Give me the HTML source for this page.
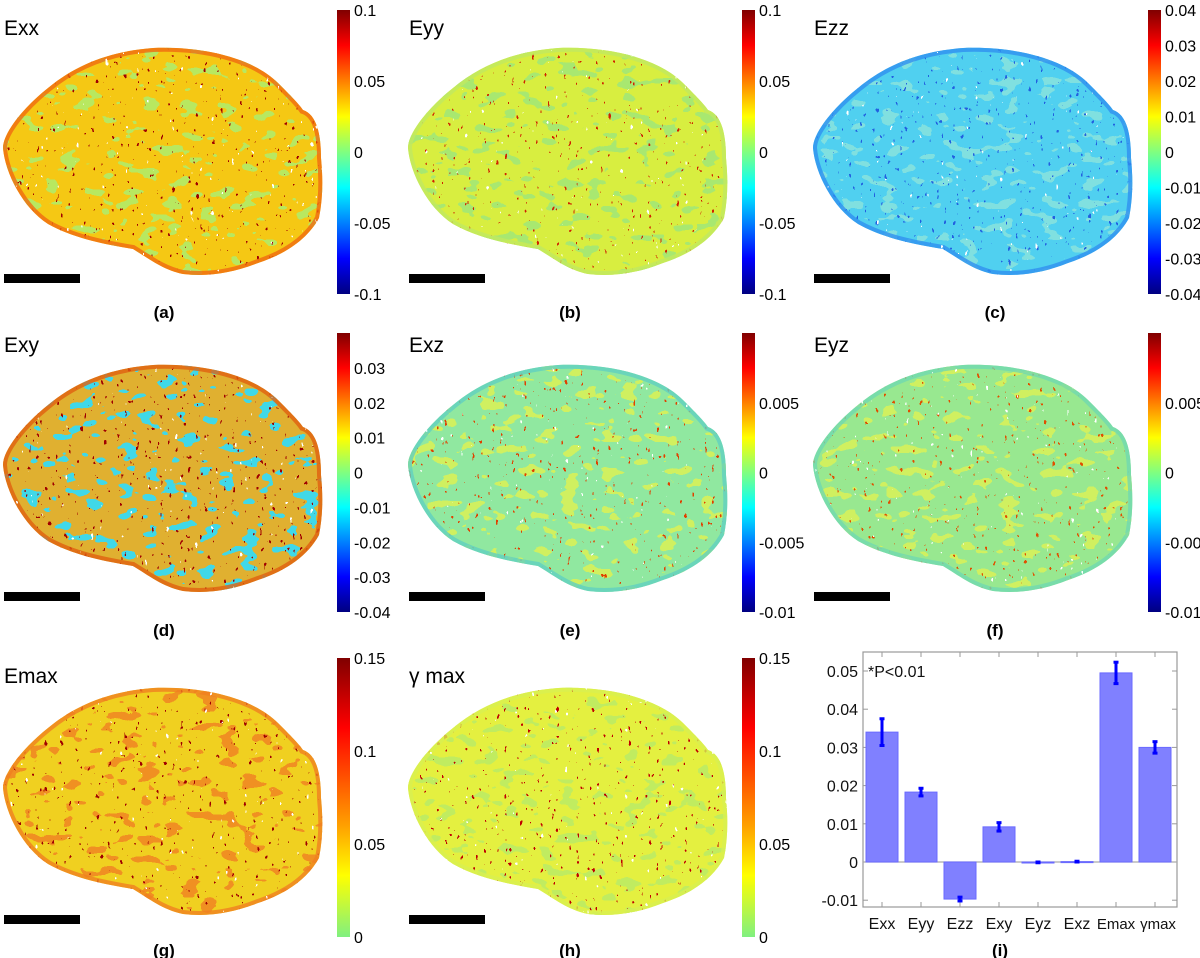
<!DOCTYPE html>
<html><head><meta charset="utf-8"><style>
html,body{margin:0;padding:0;background:#fff;}
svg{display:block;font-family:"Liberation Sans",Arial,sans-serif;}
</style></head><body>
<svg id="fig" width="1200" height="958" viewBox="0 0 1200 958" xmlns="http://www.w3.org/2000/svg">
<defs id="defs">
<linearGradient id="jet" x1="0" y1="0" x2="0" y2="1">
<stop offset="0" stop-color="#800000"/><stop offset="0.125" stop-color="#ff0000"/><stop offset="0.375" stop-color="#ffff00"/><stop offset="0.5" stop-color="#80ff80"/><stop offset="0.625" stop-color="#00ffff"/><stop offset="0.875" stop-color="#0000ff"/><stop offset="1" stop-color="#000080"/>
</linearGradient>
<linearGradient id="half" x1="0" y1="0" x2="0" y2="1">
<stop offset="0" stop-color="#800000"/><stop offset="0.25" stop-color="#ff0000"/><stop offset="0.6" stop-color="#ffa000"/><stop offset="0.78" stop-color="#ffff00"/><stop offset="1" stop-color="#80f080"/>
</linearGradient>
<path id="blob" d="M0,100 C0,85 20,60 45,40 C75,15 110,3 150,0 C200,-2 250,10 275,35 C288,48 296,56 300,62 C312,66 318,82 318,110 C320,130 320,150 316,170 C305,190 285,205 255,215 C230,225 205,229 180,226 C160,222 145,210 130,201 C100,196 70,190 45,176 C20,160 2,125 0,100 Z"/>
</defs>
<g id="panels"></g>
<g id="bars-chart"></g>
</svg>
<script>
var NS='http://www.w3.org/2000/svg';
var svg=document.getElementById('fig');
var defs=document.getElementById('defs');
var panelsG=document.getElementById('panels');
function mk(tag,attrs,parent){var e=document.createElementNS(NS,tag);for(var k in attrs)e.setAttribute(k,attrs[k]);(parent||svg).appendChild(e);return e;}

var panels=[
 {id:'a',title:'Exx',x:3,y:48,base:'#f5c814',patch:'#b8e860',spot:'#a00000',edge:'#f06a10',tx:4,ty:35,cbx:337,cby:10,cbh:284,grad:'jet',min:-0.1,max:0.1,ticks:['0.1','0.05','0','-0.05','-0.1'],tv:[0.1,0.05,0,-0.05,-0.1],sb:274,cap:318,capx:164},
 {id:'b',title:'Eyy',x:408,y:48,base:'#d8ee40',patch:'#a8e870',spot:'#d02000',edge:'#c0e860',tx:409,ty:35,cbx:742,cby:10,cbh:284,grad:'jet',min:-0.1,max:0.1,ticks:['0.1','0.05','0','-0.05','-0.1'],tv:[0.1,0.05,0,-0.05,-0.1],sb:274,cap:318,capx:570},
 {id:'c',title:'Ezz',x:813,y:48,base:'#50d0f0',patch:'#80e0e0',spot:'#2060e0',edge:'#3090f0',tx:814,ty:35,cbx:1148,cby:10,cbh:284,grad:'jet',min:-0.04,max:0.04,ticks:['0.04','0.03','0.02','0.01','0','-0.01','-0.02','-0.03','-0.04'],tv:[0.04,0.03,0.02,0.01,0,-0.01,-0.02,-0.03,-0.04],sb:274,cap:318,capx:995},
 {id:'d',title:'Exy',x:3,y:365,base:'#e0b030',patch:'#40d8e8',spot:'#a00000',edge:'#e06010',tx:4,ty:352,cbx:337,cby:333,cbh:279,grad:'jet',min:-0.04,max:0.04,ticks:['0.03','0.02','0.01','0','-0.01','-0.02','-0.03','-0.04'],tv:[0.03,0.02,0.01,0,-0.01,-0.02,-0.03,-0.04],sb:592,cap:636,capx:164},
 {id:'e',title:'Exz',x:408,y:365,base:'#90e8a0',patch:'#d0f060',spot:'#e04000',edge:'#60d0c0',tx:409,ty:352,cbx:742,cby:333,cbh:279,grad:'jet',min:-0.01,max:0.01,ticks:['0.005','0','-0.005','-0.01'],tv:[0.005,0,-0.005,-0.01],sb:592,cap:636,capx:570},
 {id:'f',title:'Eyz',x:813,y:365,base:'#98e890',patch:'#d0f060',spot:'#e05000',edge:'#70d8b0',tx:814,ty:352,cbx:1148,cby:333,cbh:279,grad:'jet',min:-0.01,max:0.01,ticks:['0.005','-0.00','0','-0.01'],tv:[0.005,-0.005,0,-0.01],sb:592,cap:636,capx:995},
 {id:'g',title:'Emax',x:3,y:688,base:'#f0d020',patch:'#f09020',spot:'#a00000',edge:'#f08020',tx:4,ty:683,cbx:337,cby:658,cbh:279,grad:'half',min:0,max:0.15,ticks:['0.15','0.1','0.05','0'],tv:[0.15,0.1,0.05,0],sb:915,cap:956,capx:164},
 {id:'h',title:'γ max',x:408,y:688,base:'#e4f040',patch:'#c0ec60',spot:'#c00000',edge:'#d8f050',tx:409,ty:683,cbx:742,cby:658,cbh:279,grad:'half',min:0,max:0.15,ticks:['0.15','0.1','0.05','0'],tv:[0.15,0.1,0.05,0],sb:915,cap:956,capx:570}
];

function noiseFilter(id,freq,seed,table,color){
  var f=mk('filter',{id:id,x:'0',y:'0',width:'1',height:'1',filterUnits:'objectBoundingBox'},defs);
  mk('feTurbulence',{type:'fractalNoise',baseFrequency:freq,numOctaves:'2',seed:seed,result:'t'},f);
  mk('feColorMatrix',{in:'t',type:'matrix',values:'0 0 0 0 0 0 0 0 0 0 0 0 0 0 0 1 0 0 0 0',result:'m'},f);
  var ct=mk('feComponentTransfer',{in:'m',result:'a'},f);
  mk('feFuncA',{type:'discrete',tableValues:table},ct);
  mk('feFlood',{'flood-color':color,result:'c'},f);
  mk('feComposite',{in:'c',in2:'a',operator:'in'},f);
}

panels.forEach(function(p,i){
  var g=mk('g',{},panelsG);
  
  
  var t=mk('text',{x:p.tx,y:p.ty,'font-size':'21',fill:'#000'},g);
  
  
  t.textContent=p.title;
  var cp=mk('clipPath',{id:'clip'+p.id},defs);
  mk('use',{href:'#blob',transform:'translate('+p.x+','+p.y+')'},cp);
  noiseFilter('fp'+p.id,'0.05 0.09',String(i*7+1),'0 0 0 0 0 1 1 1',p.patch);
  noiseFilter('fs'+p.id,'0.25 0.15',String(i*7+2),'0 0 0 0 0 0 1 1',p.spot);
  noiseFilter('fh'+p.id,'0.2 0.12',String(i*7+3),'0 0 0 0 0 0 0 0 1 1','#ffffff');
  var img=mk('g',{'clip-path':'url(#clip'+p.id+')'},g);
  
  
  mk('rect',{x:p.x-5,y:p.y-5,width:330,height:240,fill:p.base},img);
  mk('rect',{x:p.x-5,y:p.y-5,width:330,height:240,filter:'url(#fp'+p.id+')'},img);
  mk('rect',{x:p.x-5,y:p.y-5,width:330,height:240,filter:'url(#fs'+p.id+')'},img);
  mk('use',{href:'#blob',transform:'translate('+p.x+','+p.y+')',fill:'none',stroke:p.edge,'stroke-width':'8','stroke-opacity':'0.8'},img);
  mk('rect',{x:p.x-5,y:p.y-5,width:330,height:240,filter:'url(#fh'+p.id+')'},img);
  var sb=mk('rect',{x:p.x+1,y:p.sb,width:76,height:9,fill:'#000'},g);
  
  
  var cb=mk('rect',{x:p.cbx,y:p.cby,width:13,height:p.cbh,fill:'url(#'+p.grad+')'},g);
  
  
  p.ticks.forEach(function(lbl,k){
    var v=p.tv[k];
    var yy=p.cby+(p.max-v)/(p.max-p.min)*p.cbh;
    var tl=mk('text',{x:p.cbx+17,y:yy+6,'font-size':'16',fill:'#000'},g);
    
    
    tl.textContent=lbl;
  });
  var c=mk('text',{x:p.capx,y:p.cap,'font-size':'17','font-weight':'bold','text-anchor':'middle',fill:'#000'},g);
  
  
  c.textContent='('+p.id+')';
});

// Bar chart (i)
var categories=['Exx','Eyy','Ezz','Exy','Eyz','Exz','Emax','γmax'];
var means=[0.034,0.0183,-0.0097,0.0092,-0.0001,0.0001,0.0495,0.030];
var errs=[0.0035,0.001,0.0005,0.0011,0.0001,0.0001,0.0028,0.0015];
var yTicks=[0.05,0.04,0.03,0.02,0.01,0,-0.01];
var yTickLabels=['0.05','0.04','0.03','0.02','0.01','0','-0.01'];
var bc=document.getElementById('bars-chart');
var L=863,R=1177,T=652,B=907;
function yS(v){return 862-v*3820;}
function xS(i){return 882+i*39;}
var box=mk('rect',{x:L,y:T,width:R-L,height:B-T,fill:'none',stroke:'#999','stroke-width':'1.2'},bc);


yTicks.forEach(function(v,k){
  var y=yS(v);
  mk('line',{x1:L,x2:L+5,y1:y,y2:y,stroke:'#999'},bc);
  mk('line',{x1:R-5,x2:R,y1:y,y2:y,stroke:'#999'},bc);
  var t=mk('text',{x:L-5,y:y+6,'font-size':'16','text-anchor':'end',fill:'#111'},bc);
  
  
  t.textContent=yTickLabels[k];
});
mk('line',{x1:L,x2:R,y1:yS(0),y2:yS(0),stroke:'#aaa','stroke-width':'1.2'},bc);
categories.forEach(function(cat,i){
  var x=xS(i),v=means[i],e=errs[i];
  mk('line',{x1:x,x2:x,y1:T,y2:T+5,stroke:'#999'},bc);
  mk('line',{x1:x,x2:x,y1:B-5,y2:B,stroke:'#999'},bc);
  var y0=yS(0),y1=yS(v);
  var bar=mk('rect',{x:x-16,y:Math.min(y0,y1),width:32,height:Math.max(Math.abs(y1-y0),1),fill:'#8080ff',stroke:'#6a6aff','stroke-width':'1'},bc);
  
  
  var eb=mk('line',{x1:x,x2:x,y1:yS(v+e),y2:yS(v-e),stroke:'#0000ff','stroke-width':'3'},bc);
  
  
  mk('line',{x1:x-2.5,x2:x+2.5,y1:yS(v+e),y2:yS(v+e),stroke:'#0000ff','stroke-width':'3'},bc);
  mk('line',{x1:x-2.5,x2:x+2.5,y1:yS(v-e),y2:yS(v-e),stroke:'#0000ff','stroke-width':'3'},bc);
  var t=mk('text',{x:x+(i===7?3:0),y:929,'font-size':(i>=6?'15':'16'),'text-anchor':'middle',fill:'#111'},bc);
  
  
  t.textContent=cat;
});
var pt=mk('text',{x:868,y:677,'font-size':'16',fill:'#111'},bc);


pt.textContent='*P<0.01';
var ci=mk('text',{x:1000,y:956,'font-size':'17','font-weight':'bold','text-anchor':'middle',fill:'#000'},bc);


ci.textContent='(i)';
</script>
</body></html>
